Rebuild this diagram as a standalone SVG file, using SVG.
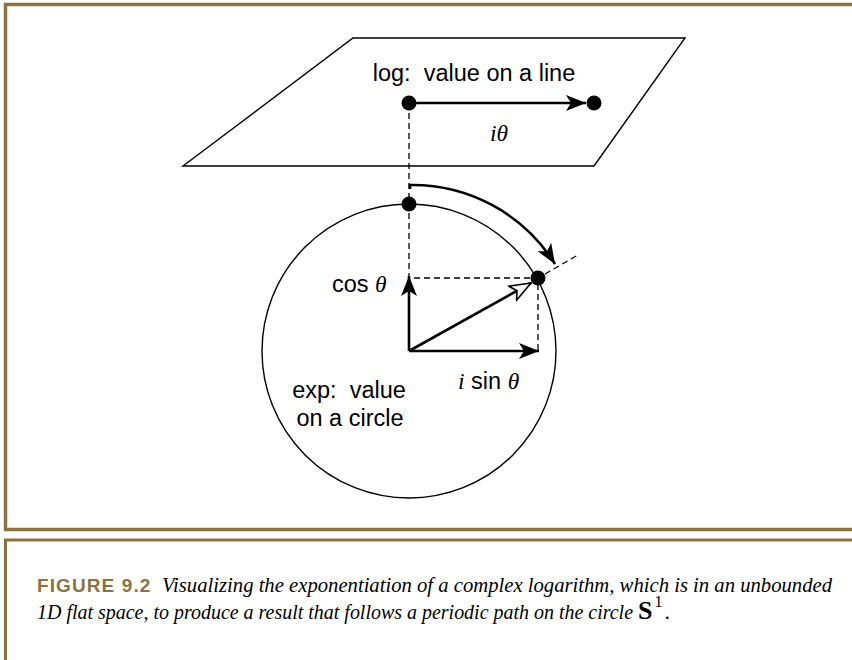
<svg xmlns="http://www.w3.org/2000/svg" width="852" height="660" viewBox="0 0 852 660">
<style>
.frame{fill:none;stroke:#8b7443;}
.thin{fill:none;stroke:#000;stroke-width:1.4;}
.arr{fill:none;stroke:#000;stroke-width:2.6;}
.dash{fill:none;stroke:#000;stroke-width:1.3;stroke-dasharray:6 4;}
.lbl{font-family:"Liberation Sans",Arial,sans-serif;font-size:23.5px;fill:#000;white-space:pre;}
.math{font-family:"Liberation Serif","Times New Roman",serif;font-style:italic;}
.cap{font-family:"Liberation Serif","Times New Roman",serif;font-style:italic;font-size:22px;fill:#000;}
.fig{font-family:"Liberation Sans",Arial,sans-serif;font-weight:bold;font-size:19px;fill:#8b7443;letter-spacing:1.1px;}
</style>
<defs>
<marker id="head" viewBox="-21 -9 22 18" refX="0" refY="0" markerWidth="22" markerHeight="18" markerUnits="userSpaceOnUse" orient="auto">
<path d="M0,0 L-20,-8 L-15,0 L-20,8 Z" fill="#000"/>
</marker>
<marker id="open" viewBox="-22 -10 24 20" refX="0" refY="0" markerWidth="24" markerHeight="20" markerUnits="userSpaceOnUse" orient="auto">
<path d="M0,0 L-21,-8 L-16,0 L-21,8 Z" fill="#fff" stroke="#000" stroke-width="1.6" stroke-linejoin="miter"/>
</marker>
</defs>
<rect width="852" height="660" fill="#fff"/>
<g id="frame">
<path class="frame" d="M852,4.5 H5.5 V529.5 H852" stroke-width="3.5"/>
<path class="frame" d="M852,540 H5.5 V660" stroke-width="3"/>
</g>
<g id="plane">
<polygon class="thin" points="353,38 685,38 594,166 183,166"/>
<text class="lbl" x="474" y="81" text-anchor="middle" xml:space="preserve">log:  value on a line</text>
<text class="lbl math" x="499" y="141" text-anchor="middle">iθ</text>
</g>
<g id="circle">
<circle class="thin" cx="409" cy="351" r="147"/>
<text class="lbl" x="349" y="398" text-anchor="middle" xml:space="preserve">exp:  value</text>
<text class="lbl" x="350" y="426" text-anchor="middle">on a circle</text>
</g>
<g id="labels">
<text class="lbl" x="332" y="292">cos <tspan class="math">θ</tspan></text>
<text class="lbl" x="458" y="389"><tspan class="math">i</tspan> sin <tspan class="math">θ</tspan></text>
</g>
<g id="connectors">
<path class="dash" d="M409,103 V278 H538 V351"/>
<path class="dash" d="M545,274 L578,255"/>
<path class="arr" d="M409,103 H586" marker-end="url(#head)"/>
<path class="arr" d="M409,351 V276" marker-end="url(#head)"/>
<path class="arr" d="M409,351 H539" marker-end="url(#head)"/>
<path class="arr" d="M409,351 L531,283" marker-end="url(#open)" stroke-width="2.2"/>
<path class="arr" d="M410,189 V185 A168,168 0 0 1 555,264" marker-end="url(#head)"/>
</g>
<g id="dots">
<circle cx="409" cy="103" r="7.5"/>
<circle cx="594" cy="103" r="7.5"/>
<circle cx="409" cy="204" r="7.5"/>
<circle cx="538" cy="278" r="7.5"/>
</g>
<g id="caption">
<text class="fig" x="37" y="592">FIGURE 9.2</text>
<text class="cap" x="162" y="592" textLength="670" lengthAdjust="spacingAndGlyphs">Visualizing the exponentiation of a complex logarithm, which is in an unbounded</text>
<text class="cap" x="37" y="619" textLength="596" lengthAdjust="spacingAndGlyphs">1D flat space, to produce a result that follows a periodic path on the circle</text>
<text x="638" y="619" font-family="Liberation Serif, serif" font-size="22"><tspan font-weight="bold" font-size="26">S</tspan><tspan dx="2" dy="-12" font-size="16">1</tspan><tspan dx="2" dy="12">.</tspan></text>
</g>
</svg>
